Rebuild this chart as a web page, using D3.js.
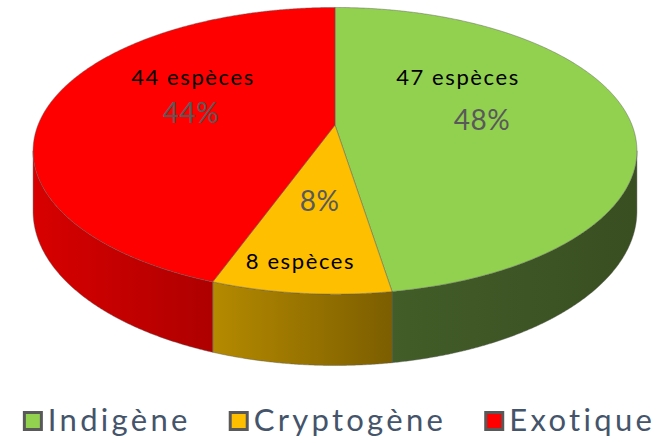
<!DOCTYPE html>
<html>
<head>
<meta charset="utf-8">
<script src="https://cdn.jsdelivr.net/npm/d3@7"></script>
<style>
  html, body { margin: 0; padding: 0; background: #ffffff; }
  svg { display: block; }
</style>
</head>
<body>
<svg id="chart" width="672" height="443"></svg>
<script>
// ---- data ----
const categories = ["Indigène", "Cryptogène", "Exotique"];
const speciesCounts = [47, 8, 44];
const percentLabels = ["48%", "8%", "44%"];
const speciesLabels = ["47 espèces", "8 espèces", "44 espèces"];

// ---- styles ----
const topColors = ["#92d050", "#fdbf00", "#fe0000"];
// [left, right] colours of each side face
const sideColors = [["#425d28", "#394e21"], ["#b58a00", "#7c5e00"], ["#d80000", "#ae0000"]];
// manual offsets of the species label relative to the percent label
const speciesOffsets = [[-24, -42], [-19, 61], [2, -35]];

const svg = d3.select("#chart");
const defs = svg.append("defs");

// perspective projection of the tilted disc
const cx = 335, cy = 125, A = 297, B = 138.7, k = 0.18, H = 58.5;
function proj(theta, r, depth) {
  const u = r * Math.sin(theta), v = -r * Math.cos(theta);
  const w = 1 - k * v;
  return [cx + A * u / w, cy + (B * v + depth) / w];
}
function arcPts(a0, a1, r, depth) {
  const n = Math.max(2, Math.ceil(Math.abs(a1 - a0) / 0.005));
  const pts = [];
  for (let i = 0; i <= n; i++) pts.push(proj(a0 + (a1 - a0) * i / n, r, depth));
  return pts;
}
const line = d3.line();

const pie = d3.pie().sort(null).value(d => d);
const arcs = pie(speciesCounts);

// visible side range
const tVis0 = Math.acos(-k), tVis1 = 2 * Math.PI - Math.acos(-k);

const gSides = svg.append("g");
arcs.forEach((a, i) => {
  const s = Math.max(a.startAngle, tVis0), e = Math.min(a.endAngle, tVis1);
  if (e <= s) return;
  const top = arcPts(s, e, 1, 0);
  const bot = arcPts(e, s, 1, H);
  const xs = top.map(p => p[0]);
  const gid = "sideGrad" + i;
  const grad = defs.append("linearGradient").attr("id", gid)
    .attr("gradientUnits", "userSpaceOnUse")
    .attr("x1", d3.min(xs)).attr("x2", d3.max(xs)).attr("y1", 0).attr("y2", 0);
  grad.append("stop").attr("offset", 0).attr("stop-color", sideColors[i][0]);
  grad.append("stop").attr("offset", 1).attr("stop-color", sideColors[i][1]);
  gSides.append("path")
    .attr("d", line(top.concat(bot)) + "Z")
    .attr("fill", `url(#${gid})`)
    .attr("stroke", "rgba(90,90,90,0.55)")
    .attr("stroke-width", 0.75);
});

const gTops = svg.append("g");
arcs.forEach((a, i) => {
  const pts = [proj(0, 0, 0)].concat(arcPts(a.startAngle, a.endAngle, 1, 0));
  gTops.append("path")
    .attr("d", line(pts) + "Z")
    .attr("fill", topColors[i])
    .attr("stroke", "rgba(90,90,90,0.6)")
    .attr("stroke-width", 0.75)
    .attr("stroke-linejoin", "round");
});

// labels
const gLab = svg.append("g");
arcs.forEach((a, i) => {
  const mid = (a.startAngle + a.endAngle) / 2;
  const p = proj(mid, 0.5, 0);
  gLab.append("text")
    .attr("x", p[0]).attr("y", p[1] + 10)
    .attr("text-anchor", "middle")
    .attr("font-family", "Lato, sans-serif")
    .attr("font-size", 28)
    .attr("letter-spacing", 0.5)
    .attr("fill", "#595959")
    .text(percentLabels[i]);
  gLab.append("text")
    .attr("x", p[0] + speciesOffsets[i][0]).attr("y", p[1] + speciesOffsets[i][1] + 7)
    .attr("text-anchor", "middle")
    .attr("font-family", "Lato, sans-serif")
    .attr("font-size", 22)
    .attr("letter-spacing", 1.6)
    .attr("fill", "#000000")
    .text(speciesLabels[i]);
});

// legend
const gLeg = svg.append("g");
const legItems = categories.map((c, i) => {
  const g = gLeg.append("g");
  g.append("rect").attr("x", 1.5).attr("y", -18.5).attr("width", 17).attr("height", 17)
    .attr("fill", topColors[i]).attr("stroke", "#595959").attr("stroke-width", 3);
  const t = g.append("text").attr("x", 25).attr("y", 0)
    .attr("font-family", "Lato, sans-serif")
    .attr("font-size", 31)
    .attr("letter-spacing", 3.3)
    .attr("fill", "#44546a")
    .text(c);
  return { g, w: 25 + t.node().getComputedTextLength() };
});
const gap = 38;
const total = d3.sum(legItems, d => d.w) + gap * (legItems.length - 1);
let x0 = 339 - total / 2;
legItems.forEach(d => {
  d.g.attr("transform", `translate(${x0},431)`);
  x0 += d.w + gap;
});
</script>
</body>
</html>
